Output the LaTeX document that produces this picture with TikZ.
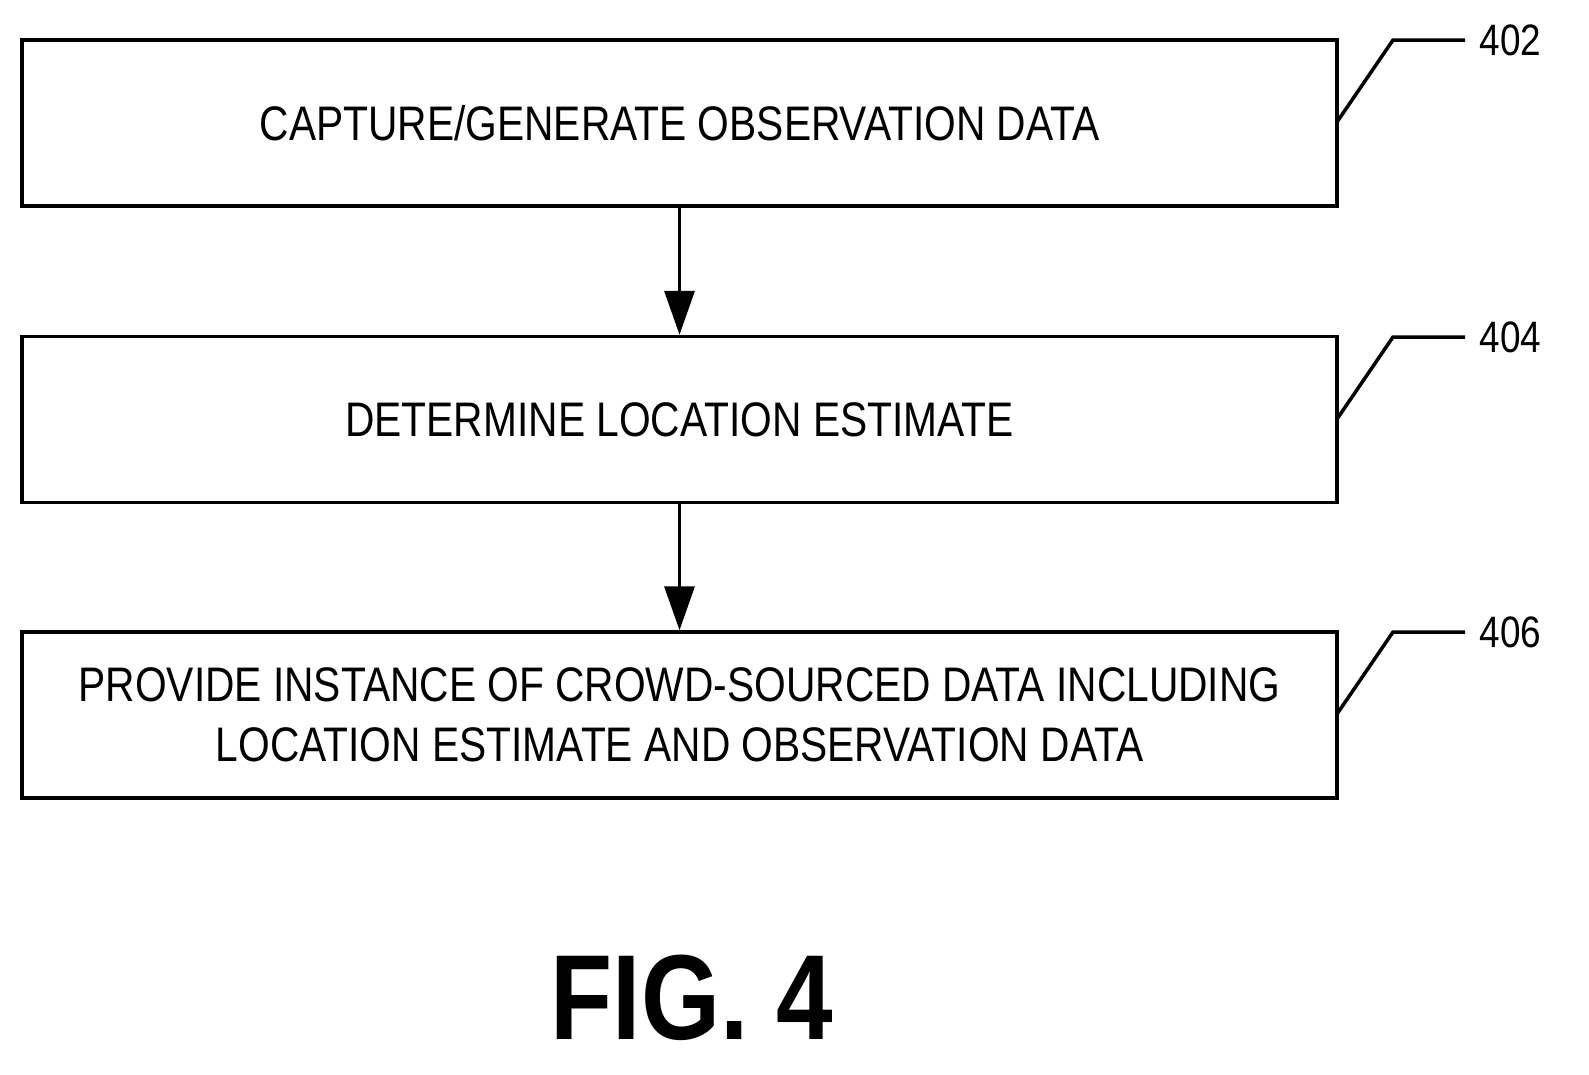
\documentclass[tikz,border=0pt]{standalone}
\usepackage{fontspec}
\setmainfont[FakeStretch=0.84]{Liberation Sans}
\usetikzlibrary{arrows.meta}
\begin{document}
\begin{tikzpicture}[x=1bp,y=-1bp,line width=3.5bp,
  box/.style={draw,rectangle,minimum width=1315bp,minimum height=166bp,inner sep=0pt,align=center,font=\fontsize{48.5bp}{60bp}\selectfont},
  lbl/.style={anchor=west,inner sep=0pt,font=\fontsize{44bp}{48bp}\selectfont},
  >={Triangle[width=30bp,length=44bp]}]
\useasboundingbox (0,0) rectangle (1589,1074);
%%
\node (capture) at (679.5bp,-123bp) [box] {CAPTURE/GENERATE OBSERVATION DATA};
  \node (estimate) at (679.5bp,-419.5bp) [box] {DETERMINE LOCATION ESTIMATE};
  \node (provide) at (679.5bp,-715bp) [box] {PROVIDE INSTANCE OF CROWD-SOURCED DATA INCLUDING\\LOCATION ESTIMATE AND OBSERVATION DATA};
  \node (fig) at (692bp,-998bp) [font=\bfseries\fontsize{121bp}{130bp}\selectfont] {FIG. 4};
  \draw [->] (capture) -- (estimate);
  \draw [->] (estimate) -- (provide);
%
\foreach \n/\y in {402/40,404/337,406/632}{
  \coordinate (k\n) at (1393,\y);
  \coordinate (e\n) at (1465,\y);
  \node (r\n) at (1478,\y) [lbl] {\n};
  \draw (1337,\y+82) -- (k\n) -- (e\n);
}
%
\end{tikzpicture}
\end{document}
